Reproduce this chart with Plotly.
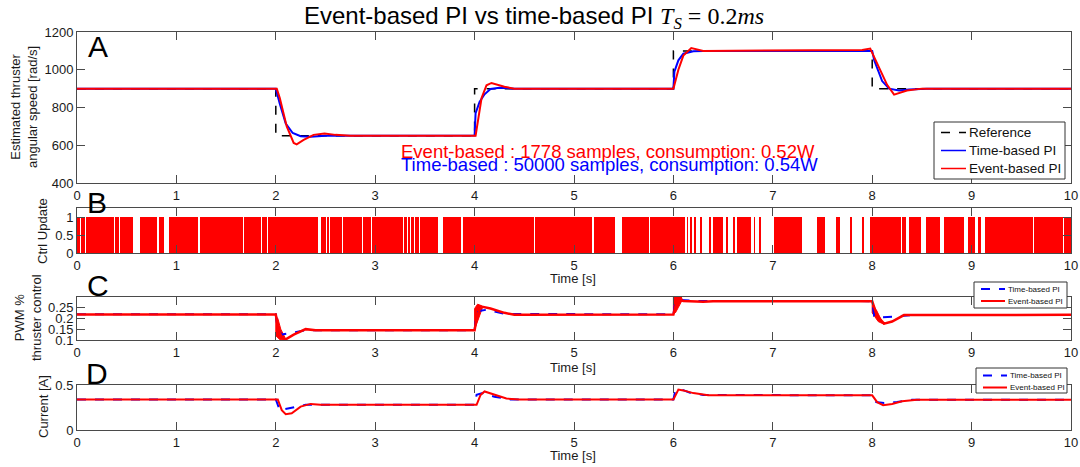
import plotly.graph_objects as go

# ---------------- data ----------------
# Panel A : estimated thruster angular speed [rad/s]
t_ref = [0, 2, 2, 4, 4, 6, 6, 8, 8, 10]
w_ref = [900, 900, 650, 650, 900, 900, 1100, 1100, 900, 900]

t_a_time = [0, 2.0, 2.04, 2.1, 2.17, 2.25, 2.35, 2.5, 4.0, 4.01, 4.05, 4.1, 4.16, 4.25, 4.4,
            6.0, 6.01, 6.05, 6.1, 6.2, 6.3, 8.0, 8.02, 8.1, 8.17, 8.27, 8.37, 8.55, 10]
w_a_time = [900, 900, 820, 715, 665, 648, 645, 650, 652, 770, 830, 870, 898, 905, 900,
            900, 990, 1050, 1085, 1098, 1100, 1100, 1050, 940, 900, 890, 895, 900, 900]

t_a_event = [0, 2.01, 2.04, 2.11, 2.18, 2.21, 2.28, 2.38, 2.49, 2.6, 2.75, 4.01, 4.04, 4.07, 4.12,
             4.17, 4.3, 4.4, 6.0, 6.05, 6.1, 6.18, 6.3, 7.9, 7.98, 8.06, 8.15, 8.22, 8.35, 8.5, 10]
w_a_event = [900, 900, 850, 700, 612, 605, 628, 655, 662, 655, 650, 650, 750, 850, 918,
             930, 910, 900, 900, 1000, 1075, 1115, 1100, 1105, 1112, 1020, 920, 868, 890, 900, 900]

# Panel B : controller update intervals (start, end) in seconds
b_on_intervals = [
    (0.0, 0.032), (0.040, 0.080), (0.088, 0.136), (0.144, 0.371), (0.379, 0.423), (0.431, 0.565),
    (0.635, 0.808), (0.825, 0.877), (0.929, 1.214), (1.241, 1.585), (1.593, 1.672),
    (1.680, 1.852), (1.860, 1.914), (1.922, 2.42), (2.455, 2.480), (2.488, 2.504),
    (2.512, 2.539), (2.547, 2.667), (2.675, 2.833), (2.841, 2.868), (2.876, 2.903),
    (2.911, 2.920), (2.928, 2.955), (2.963, 3.284), (3.292, 3.319), (3.327, 3.354),
    (3.362, 3.388), (3.396, 3.440), (3.448, 3.527), (3.535, 3.634), (3.686, 3.859),
    (3.883, 4.6), (4.61, 5.184), (5.201, 5.409), (5.478, 5.752), (5.760, 6.119),
    (6.137, 6.145), (6.171, 6.18), (6.216, 6.225), (6.275, 6.285), (6.355, 6.379),
    (6.396, 6.5), (6.535, 6.552), (6.597, 6.622), (6.639, 6.778), (6.812, 6.82),
    (6.864, 6.872), (7.007, 7.297), (7.446, 7.522), (7.637, 7.678), (7.782, 7.8),
    (7.904, 7.921), (7.973, 8.285), (8.302, 8.337), (8.371, 8.493), (8.545, 8.683),
    (8.718, 8.926), (8.96, 9.03), (9.064, 9.099), (9.134, 9.62), (9.628, 9.92), (9.928, 10.0),
]

# Panel C : PWM % thruster control
t_c_time = [0, 2.0, 2.02, 2.06, 2.15, 2.3, 4.0, 4.02, 4.06, 4.13, 4.3, 6.0, 6.02, 6.06, 6.2,
            8.0, 8.02, 8.06, 8.2, 8.4, 10]
p_c_time = [0.218, 0.218, 0.15, 0.125, 0.132, 0.145, 0.145, 0.225, 0.235, 0.24, 0.22, 0.218,
            0.28, 0.285, 0.28, 0.279, 0.21, 0.203, 0.207, 0.215, 0.215]

t_c_event = [0, 2.0, 2.02, 2.06, 2.1, 2.18, 2.3, 2.4, 4.0, 4.02, 4.06, 4.16, 4.3, 4.4, 6.0,
             6.04, 6.1, 6.3, 6.4, 8.0, 8.05, 8.12, 8.2, 8.32, 10]
p_c_event = [0.217, 0.217, 0.16, 0.11, 0.103, 0.125, 0.15, 0.145, 0.145, 0.2, 0.255, 0.245,
             0.225, 0.216, 0.217, 0.29, 0.28, 0.276, 0.279, 0.278, 0.21, 0.175, 0.185, 0.215, 0.216]

# oscillation envelopes of the event-based PWM right after each step
c_band_t = [[2.0, 2.0, 2.04, 2.09, 2.1, 2.05, 2.02],
            [4.0, 4.0, 4.03, 4.07, 4.08, 4.04, 4.01],
            [6.0, 6.0, 6.08, 6.09, 6.05, 6.02],
            [8.0, 8.0, 8.06, 8.12, 8.1, 8.04]]
c_band_p = [[0.218, 0.12, 0.102, 0.1, 0.104, 0.15, 0.2],
            [0.145, 0.245, 0.265, 0.258, 0.25, 0.2, 0.16],
            [0.218, 0.298, 0.298, 0.285, 0.25, 0.225],
            [0.278, 0.225, 0.185, 0.172, 0.185, 0.24]]

# Panel D : current [A]
t_d_time = [0, 2.0, 2.04, 2.15, 2.3, 4.0, 4.02, 4.08, 4.2, 4.35, 6.0, 6.02, 6.08, 6.18, 6.3,
            8.0, 8.03, 8.12, 8.25, 8.4, 10]
i_d_time = [0.34, 0.34, 0.22, 0.245, 0.28, 0.28, 0.39, 0.41, 0.37, 0.34, 0.34, 0.44, 0.45,
            0.41, 0.39, 0.385, 0.31, 0.3, 0.31, 0.335, 0.335]

t_d_event = [0, 2.02, 2.06, 2.1, 2.16, 2.25, 2.35, 2.45, 4.02, 4.06, 4.1, 4.2, 4.32, 4.45,
             6.0, 6.05, 6.1, 6.2, 6.35, 8.0, 8.05, 8.11, 8.2, 8.3, 8.45, 10]
i_d_event = [0.34, 0.34, 0.22, 0.175, 0.185, 0.26, 0.29, 0.28, 0.28, 0.39, 0.428, 0.395,
             0.35, 0.338, 0.338, 0.45, 0.44, 0.41, 0.387, 0.385, 0.31, 0.276, 0.29, 0.32,
             0.335, 0.335]

x_ticks = list(range(0, 11))
a_yticks = [400, 600, 800, 1000, 1200]
b_yticks = [0, 0.5, 1]
c_yticks = [0.1, 0.15, 0.2, 0.25]
d_yticks = [0, 0.5]

legend_a_names = ["Reference", "Time-based PI", "Event-based PI"]
legend_names = ["Time-based PI", "Event-based PI"]
txt_event = "Event-based : 1778 samples, consumption: 0.52W"
txt_time = "Time-based : 50000 samples, consumption: 0.54W"

# ---------------- figure ----------------
W, H = 1080, 467
FONT = "Liberation Sans, Arial, sans-serif"
RED = "#ff0000"
BLUE = "#0000ff"


def py(px):
    return 1 - px / H


def pxx(px):
    return px / W


fig = go.Figure()

# Panel A
fig.add_trace(go.Scatter(x=t_ref, y=w_ref, mode="lines", name="Reference",
                         line=dict(color="black", width=1.5, dash="dash"), showlegend=False,
                         xaxis="x", yaxis="y"))
fig.add_trace(go.Scatter(x=t_a_time, y=w_a_time, mode="lines", name="Time-based PI",
                         line=dict(color=BLUE, width=2), showlegend=False,
                         xaxis="x", yaxis="y"))
fig.add_trace(go.Scatter(x=t_a_event, y=w_a_event, mode="lines", name="Event-based PI",
                         line=dict(color=RED, width=2), showlegend=False,
                         xaxis="x", yaxis="y"))

# Panel B
b_centers = [(s + e) / 2 for s, e in b_on_intervals]
b_widths = [e - s for s, e in b_on_intervals]
fig.add_trace(go.Bar(x=b_centers, y=[1] * len(b_centers), width=b_widths,
                     marker=dict(color=RED, line=dict(width=0)), showlegend=False,
                     xaxis="x2", yaxis="y2"))

# Panel C
for bt, bp in zip(c_band_t, c_band_p):
    fig.add_trace(go.Scatter(x=bt, y=bp, mode="lines", fill="toself", fillcolor=RED,
                             line=dict(color=RED, width=1), showlegend=False,
                             xaxis="x3", yaxis="y3"))
fig.add_trace(go.Scatter(x=t_c_time, y=p_c_time, mode="lines", name="Time-based PI",
                         line=dict(color=BLUE, width=2, dash="dash"), showlegend=False,
                         xaxis="x3", yaxis="y3"))
fig.add_trace(go.Scatter(x=t_c_event, y=p_c_event, mode="lines", name="Event-based PI",
                         line=dict(color=RED, width=2.5), showlegend=False,
                         xaxis="x3", yaxis="y3"))

# Panel D
fig.add_trace(go.Scatter(x=t_d_time, y=i_d_time, mode="lines", name="Time-based PI",
                         line=dict(color=BLUE, width=2, dash="dash"), showlegend=False,
                         xaxis="x4", yaxis="y4"))
fig.add_trace(go.Scatter(x=t_d_event, y=i_d_event, mode="lines", name="Event-based PI",
                         line=dict(color=RED, width=2), showlegend=False,
                         xaxis="x4", yaxis="y4"))

XDOM = [pxx(77), pxx(1071)]
LINEC = "#4a4a4a"
TICKF = dict(family=FONT, size=13, color="#1a1a1a")


def xax(anchor):
    return dict(domain=XDOM, range=[0, 10], tickvals=x_ticks, anchor=anchor,
                showline=True, linecolor=LINEC, linewidth=1, mirror="ticks",
                ticks="inside", ticklen=8, tickcolor=LINEC, showgrid=False,
                zeroline=False, tickfont=TICKF, automargin=False)


def yax(anchor, top, bottom, rng, tv):
    return dict(domain=[py(bottom), py(top)], range=rng, tickvals=tv, anchor=anchor,
                showline=True, linecolor=LINEC, linewidth=1, mirror="ticks",
                ticks="inside", ticklen=8, tickcolor=LINEC, showgrid=False,
                zeroline=False, tickfont=TICKF, automargin=False)


A_T, A_B = 32, 183
B_T, B_B = 208, 253
C_T, C_B = 297, 340
D_T, D_B = 385, 430

layout = dict(
    width=W, height=H,
    margin=dict(l=0, r=0, t=0, b=0, autoexpand=False),
    paper_bgcolor="white", plot_bgcolor="white",
    font=dict(family=FONT, color="#1a1a1a"),
    bargap=0,
    showlegend=False,
    xaxis=xax("y"),
    yaxis=yax("x", A_T, A_B, [400, 1200], a_yticks),
    xaxis2=xax("y2"),
    yaxis2=yax("x2", B_T, B_B, [0, 1.25], b_yticks),
    xaxis3=xax("y3"),
    yaxis3=yax("x3", C_T, C_B, [0.1, 0.298], c_yticks),
    xaxis4=xax("y4"),
    yaxis4=yax("x4", D_T, D_B, [0, 0.5], d_yticks),
    title=dict(
        text=("Event-based PI vs time-based PI "
              "<span style=\"font-family:'Liberation Serif', 'DejaVu Serif', serif\">"
              "<i>T</i><sub><i>S</i></sub> = 0.2<i>ms</i></span>"),
        x=pxx(534), xanchor="center", y=py(16), yanchor="middle", automargin=False,
        font=dict(family=FONT, size=24, color="black")),
)
fig.update_layout(**layout)

ann = []
shapes = []
# panel letters
for letter, xp, yp in [("A", 98, 47), ("B", 97, 203), ("C", 98, 285), ("D", 97, 373)]:
    ann.append(dict(text=letter, x=pxx(xp), y=py(yp), xref="paper", yref="paper",
                    xanchor="center", yanchor="middle", showarrow=False,
                    font=dict(family=FONT, size=30, color="black")))
# consumption texts
ann.append(dict(text=txt_event, x=pxx(399), y=py(151), xref="paper", yref="paper",
                xanchor="left", yanchor="middle", showarrow=False,
                font=dict(family=FONT, size=18.5, color=RED)))
ann.append(dict(text=txt_time, x=pxx(399), y=py(164), xref="paper", yref="paper",
                xanchor="left", yanchor="middle", showarrow=False,
                font=dict(family=FONT, size=18.5, color=BLUE)))
# y-axis titles
ylabs = [("Estimated thruster<br>angular speed [rad/s]", 24, 107),
         ("Ctrl Update", 43, 231),
         ("PWM %<br>thruster control", 28, 318),
         ("Current [A]", 43, 407)]
for t, xp, yp in ylabs:
    ann.append(dict(text=t, x=pxx(xp), y=py(yp), xref="paper", yref="paper",
                    xanchor="center", yanchor="middle", showarrow=False, textangle=-90,
                    font=dict(family=FONT, size=13, color="#1a1a1a")))
# x-axis titles
for yp in [278, 367, 455]:
    ann.append(dict(text="Time [s]", x=pxx(573), y=py(yp), xref="paper", yref="paper",
                    xanchor="center", yanchor="middle", showarrow=False,
                    font=dict(family=FONT, size=13, color="#1a1a1a")))


# Matlab-style compact legends (box, line samples, labels)
def legend_box(x0, x1, y0, y1, names, styles, rows, lx0, lx1, fsize):
    shapes.append(dict(type="rect", xref="paper", yref="paper",
                       x0=pxx(x0), x1=pxx(x1), y0=py(y1), y1=py(y0),
                       line=dict(color="#333", width=1), fillcolor="white", layer="above"))
    for name, ry, st in zip(names, rows, styles):
        shapes.append(dict(type="line", xref="paper", yref="paper",
                           x0=pxx(lx0), x1=pxx(lx1), y0=py(ry), y1=py(ry),
                           line=st, layer="above"))
        ann.append(dict(text=name, x=pxx(lx1 + 1), y=py(ry), xref="paper", yref="paper",
                        xanchor="left", yanchor="middle", showarrow=False,
                        font=dict(family=FONT, size=fsize, color="#111")))


legend_box(934, 1065, 122, 179, legend_a_names,
           [dict(color="black", width=1.5, dash="dash"), dict(color=BLUE, width=1.5),
            dict(color=RED, width=1.5)],
           [132.5, 150.5, 168.5], 941, 966, 13.5)
small_styles = [dict(color=BLUE, width=2, dash="dash"), dict(color=RED, width=2)]
legend_box(974, 1067, 282, 308, legend_names, small_styles, [289, 301], 981, 1005, 8)
legend_box(976, 1067, 368, 393, legend_names, small_styles, [375.5, 387.5], 983, 1007, 8)

fig.update_layout(annotations=ann, shapes=shapes)

# the page's default body margin would push the 1080x467 figure off the window
fig.write_html("out.html",
               config={"displayModeBar": False},
               post_script="document.body.style.margin='0px';"
                           "document.body.style.overflow='hidden';")
